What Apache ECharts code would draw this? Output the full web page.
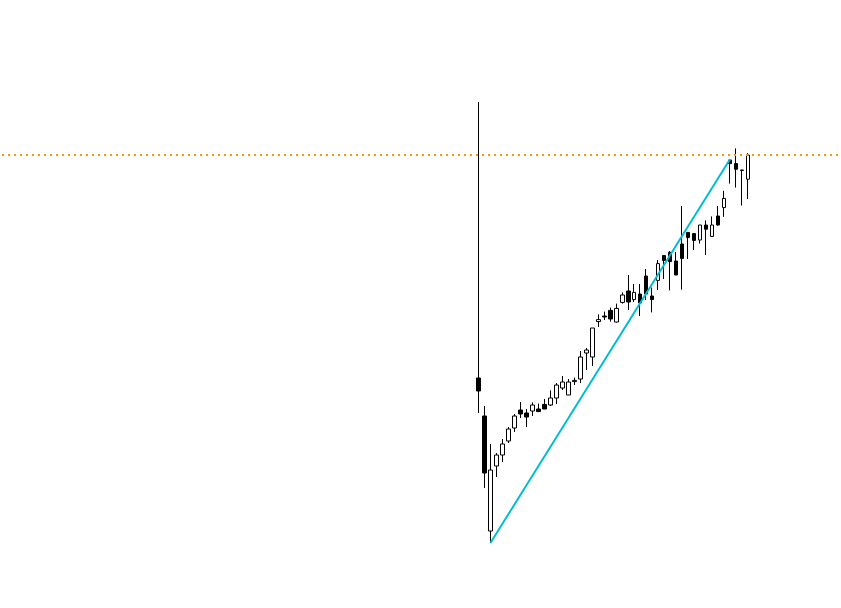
<!DOCTYPE html>
<html>
<head>
<meta charset="utf-8">
<script src="https://cdn.jsdelivr.net/npm/echarts@6/dist/echarts.min.js"></script>
<style>
html,body{margin:0;padding:0;background:#fff;}
#chart{width:841px;height:608px;}
</style>
</head>
<body>
<div id="chart"></div>
<script>
// candle labels (axis hidden in the reference)
var categories = ['1','2','3','4','5','6','7','8','9','10','11','12','13','14','15','16','17','18','19','20','21','22','23','24','25','26','27','28','29','30','31','32','33','34','35','36','37','38','39','40','41','42','43','44','45','46'];
var opens  = [157.5,148,119.25,135.5,138.25,141.75,145,149.5,148.75,149.25,149.75,150.9,150.75,152.5,155,153.25,156.6,157.25,163.75,162.75,171.6,173,174.4,171.5,176.4,179.25,177.1,178.5,183,178,181.9,188.1,188.9,186.75,191,193.9,193.6,192,195.75,192.9,198,200.1,212,211.1,209.5,207.2];
var closes = [154.25,133.75,134.5,138.25,141,144.75,148,148.5,147.75,150.75,149.1,149.75,152.5,155.75,156.5,156.5,156.9,162.75,164.5,170,172.1,172.75,172.25,174.9,178.25,176.5,178.9,176.25,178.5,177.1,186.1,186.9,186.6,183.25,187.4,192.6,191.9,195.75,194.7,195.75,195.75,202.4,211.1,209.7,209.4,213.25];
var lows   = [148.75,130,116.25,132.75,136.5,141.25,144,147.5,145.25,148,149.1,149.75,150.5,151,154.5,153.25,155.75,156.25,159.5,160.5,170.25,172,171.6,171.4,176.1,174.5,176.5,173,177,173.9,179.5,182.25,179.4,183.25,179.6,187.25,189.5,191.1,188.25,192.8,195.6,197.8,206.1,205.1,200.6,202.25];
var highs  = [226.5,150.5,141,138.75,142.25,145.25,148.5,151.5,149.75,151.4,151.1,152.25,154.4,156.25,158,157.25,157.6,164.25,165,170,173.4,174.1,175.1,176.1,178.9,183.25,181,181,184.75,180.1,187,188.25,189.25,189,200.5,194,193.75,195.75,196.9,197.9,200.5,204.3,212.1,214.9,209.5,213.7];
// trend line endpoints: [category, value]
var trendStart = ['3', 116.25];
var trendEnd   = ['43', 212.25];
// last price level (dotted)
var lastPrice = 213.25;

var leadBlank = 79, tailBlank = 15;
var axisCats = [], candleData = [];
for (var i = 0; i < leadBlank; i++) { axisCats.push('L' + i); candleData.push('-'); }
for (var j = 0; j < categories.length; j++) {
  axisCats.push(categories[j]);
  candleData.push([opens[j], closes[j], lows[j], highs[j]]);
}
for (var k = 0; k < tailBlank; k++) { axisCats.push('T' + k); candleData.push('-'); }

var chart = echarts.init(document.getElementById('chart'), null, {renderer: 'canvas'});
chart.setOption({
  animation: false,
  backgroundColor: '#ffffff',
  grid: {left: 2, top: 0, width: 840, height: 608, containLabel: false},
  xAxis: {
    type: 'category', data: axisCats, boundaryGap: true, show: false
  },
  yAxis: {
    type: 'value', min: 100, max: 252, show: false, splitLine: {show: false}
  },
  series: [{
    type: 'candlestick',
    data: candleData,
    barWidth: 4,
    silent: true,
    itemStyle: {
      color: '#ffffff', color0: '#000000',
      borderColor: '#000000', borderColor0: '#000000', borderWidth: 1
    },
    markLine: {
      silent: true,
      symbol: ['none', 'none'],
      label: {show: false},
      animation: false,
      data: [
        {yAxis: lastPrice, lineStyle: {color: '#ff9800', width: 2, type: [2, 4]}},
        [
          {coord: trendStart, lineStyle: {color: '#00bcd4', width: 2, type: 'solid'}},
          {coord: trendEnd}
        ]
      ]
    }
  }]
});
</script>
</body>
</html>
